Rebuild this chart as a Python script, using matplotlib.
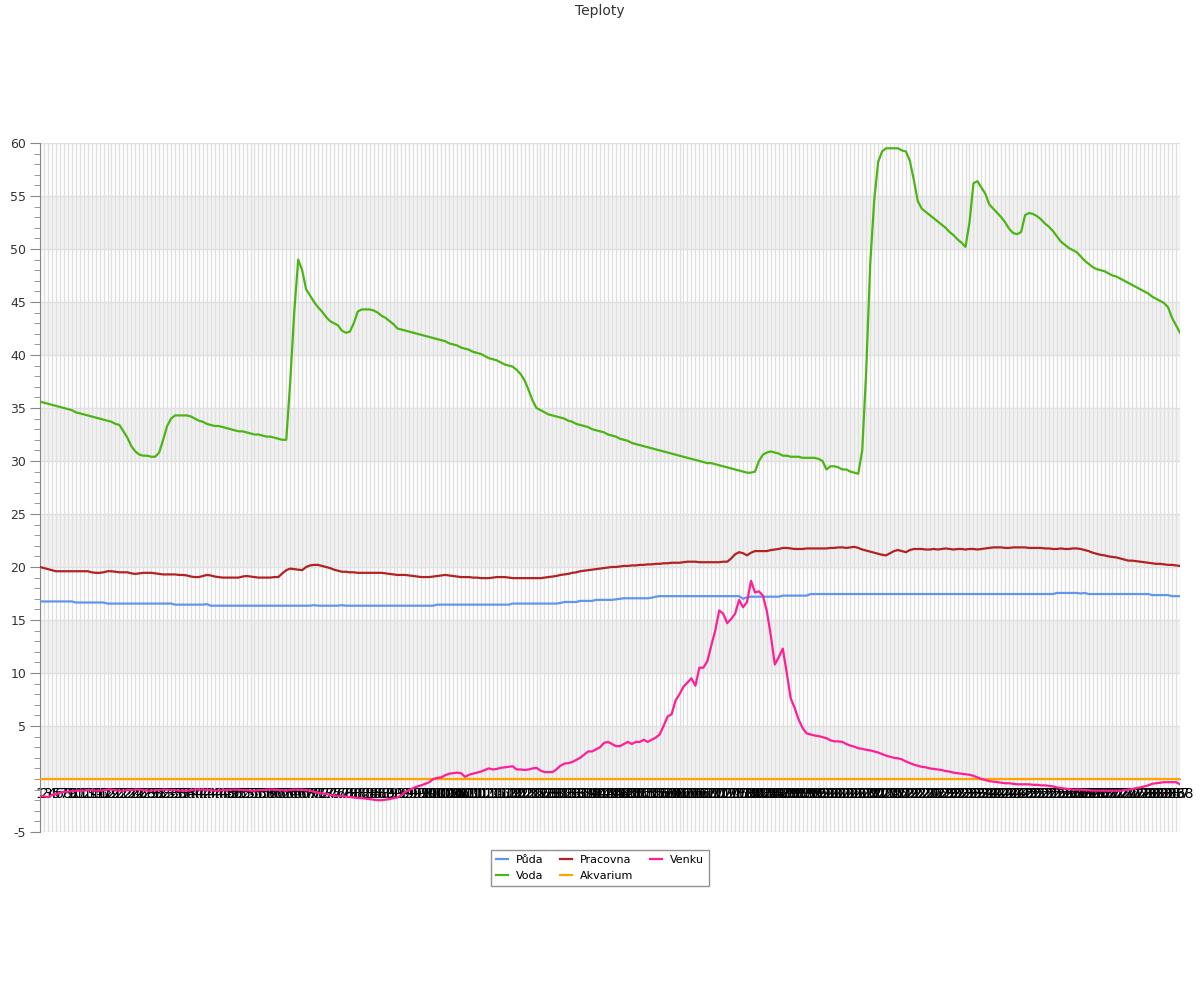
import matplotlib
matplotlib.use('Agg')
import matplotlib.pyplot as plt
from matplotlib.ticker import MultipleLocator

# 288 measurements over the day, category labels 1..288
labels = [str(i) for i in range(1, 289)]

puda = [
    16.75, 16.75, 16.75, 16.75, 16.75, 16.75, 16.75, 16.75, 16.75, 16.65,
    16.65, 16.65, 16.65, 16.65, 16.65, 16.65, 16.65, 16.55, 16.55, 16.55,
    16.55, 16.55, 16.55, 16.55, 16.55, 16.55, 16.55, 16.55, 16.55, 16.55,
    16.55, 16.55, 16.55, 16.55, 16.45, 16.45, 16.45, 16.45, 16.45, 16.45,
    16.45, 16.45, 16.5, 16.35, 16.35, 16.35, 16.35, 16.35, 16.35, 16.35,
    16.35, 16.35, 16.35, 16.35, 16.35, 16.35, 16.35, 16.35, 16.35, 16.35,
    16.35, 16.35, 16.35, 16.35, 16.35, 16.35, 16.35, 16.35, 16.35, 16.4,
    16.35, 16.35, 16.35, 16.35, 16.35, 16.35, 16.4, 16.35, 16.35, 16.35,
    16.35, 16.35, 16.35, 16.35, 16.35, 16.35, 16.35, 16.35, 16.35, 16.35,
    16.35, 16.35, 16.35, 16.35, 16.35, 16.35, 16.35, 16.35, 16.35, 16.35,
    16.45, 16.45, 16.45, 16.45, 16.45, 16.45, 16.45, 16.45, 16.45, 16.45,
    16.45, 16.45, 16.45, 16.45, 16.45, 16.45, 16.45, 16.45, 16.45, 16.55,
    16.55, 16.55, 16.55, 16.55, 16.55, 16.55, 16.55, 16.55, 16.55, 16.55,
    16.55, 16.6, 16.7, 16.7, 16.7, 16.7, 16.8, 16.8, 16.8, 16.8,
    16.9, 16.9, 16.9, 16.9, 16.9, 16.95, 17.0, 17.05, 17.05, 17.05,
    17.05, 17.05, 17.05, 17.05, 17.1, 17.2, 17.25, 17.25, 17.25, 17.25,
    17.25, 17.25, 17.25, 17.25, 17.25, 17.25, 17.25, 17.25, 17.25, 17.25,
    17.25, 17.25, 17.25, 17.25, 17.25, 17.25, 17.25, 17.0, 17.15, 17.2,
    17.2, 17.2, 17.2, 17.2, 17.2, 17.2, 17.2, 17.3, 17.3, 17.3,
    17.3, 17.3, 17.3, 17.3, 17.45, 17.45, 17.45, 17.45, 17.45, 17.45,
    17.45, 17.45, 17.45, 17.45, 17.45, 17.45, 17.45, 17.45, 17.45, 17.45,
    17.45, 17.45, 17.45, 17.45, 17.45, 17.45, 17.45, 17.45, 17.45, 17.45,
    17.45, 17.45, 17.45, 17.45, 17.45, 17.45, 17.45, 17.45, 17.45, 17.45,
    17.45, 17.45, 17.45, 17.45, 17.45, 17.45, 17.45, 17.45, 17.45, 17.45,
    17.45, 17.45, 17.45, 17.45, 17.45, 17.45, 17.45, 17.45, 17.45, 17.45,
    17.45, 17.45, 17.45, 17.45, 17.45, 17.45, 17.55, 17.55, 17.55, 17.55,
    17.55, 17.55, 17.5, 17.55, 17.45, 17.45, 17.45, 17.45, 17.45, 17.45,
    17.45, 17.45, 17.45, 17.45, 17.45, 17.45, 17.45, 17.45, 17.45, 17.45,
    17.35, 17.35, 17.35, 17.35, 17.35, 17.25, 17.25, 17.25,
]

voda = [
    35.6, 35.5, 35.4, 35.3, 35.2, 35.1, 35.0, 34.9, 34.8, 34.6,
    34.5, 34.4, 34.3, 34.2, 34.1, 34.0, 33.9, 33.8, 33.7, 33.5,
    33.4, 32.8, 32.2, 31.4, 30.9, 30.6, 30.5, 30.5, 30.4, 30.4,
    30.8, 32.0, 33.3, 34.0, 34.3, 34.3, 34.3, 34.3, 34.2, 34.0,
    33.8, 33.7, 33.5, 33.4, 33.3, 33.3, 33.2, 33.1, 33.0, 32.9,
    32.8, 32.8, 32.7, 32.6, 32.5, 32.5, 32.4, 32.3, 32.3, 32.2,
    32.1, 32.0, 32.0, 37.5, 44.0, 49.0, 48.0, 46.2, 45.6, 45.0,
    44.5, 44.1, 43.6, 43.2, 43.0, 42.8, 42.3, 42.1, 42.2, 43.0,
    44.1, 44.3, 44.3, 44.3, 44.2, 44.0, 43.7, 43.5, 43.2, 42.9,
    42.5, 42.4, 42.3, 42.2, 42.1, 42.0, 41.9, 41.8, 41.7, 41.6,
    41.5, 41.4, 41.3, 41.1, 41.0, 40.9, 40.7, 40.6, 40.5, 40.3,
    40.2, 40.1, 39.9, 39.7, 39.6, 39.5, 39.3, 39.1, 39.0, 38.9,
    38.6, 38.2, 37.6, 36.7, 35.7, 35.0, 34.8, 34.6, 34.4, 34.3,
    34.2, 34.1, 34.0, 33.8, 33.7, 33.5, 33.4, 33.3, 33.2, 33.0,
    32.9, 32.8, 32.7, 32.5, 32.4, 32.3, 32.1, 32.0, 31.9, 31.7,
    31.6, 31.5, 31.4, 31.3, 31.2, 31.1, 31.0, 30.9, 30.8, 30.7,
    30.6, 30.5, 30.4, 30.3, 30.2, 30.1, 30.0, 29.9, 29.8, 29.8,
    29.7, 29.6, 29.5, 29.4, 29.3, 29.2, 29.1, 29.0, 28.9, 28.9,
    29.0, 30.0, 30.6, 30.8, 30.9, 30.8, 30.7, 30.5, 30.5, 30.4,
    30.4, 30.4, 30.3, 30.3, 30.3, 30.3, 30.2, 30.0, 29.2, 29.5,
    29.5, 29.4, 29.2, 29.2, 29.0, 28.9, 28.8, 31.0, 38.5, 48.5,
    54.5, 58.2, 59.2, 59.5, 59.5, 59.5, 59.5, 59.3, 59.2, 58.3,
    56.5, 54.5, 53.8, 53.5, 53.2, 52.9, 52.6, 52.3, 52.0, 51.6,
    51.3, 50.9, 50.6, 50.2, 52.5, 56.2, 56.4, 55.8, 55.2, 54.2,
    53.8, 53.4, 53.0, 52.5, 51.9, 51.5, 51.4, 51.6, 53.2, 53.4,
    53.3, 53.1, 52.8, 52.4, 52.1, 51.7, 51.2, 50.7, 50.4, 50.1,
    49.9, 49.7, 49.3, 48.9, 48.6, 48.3, 48.1, 48.0, 47.9, 47.7,
    47.5, 47.4, 47.2, 47.0, 46.8, 46.6, 46.4, 46.2, 46.0, 45.8,
    45.5, 45.3, 45.1, 44.9, 44.5, 43.5, 42.8, 42.1,
]

pracovna = [
    20.0, 19.9, 19.8, 19.7, 19.6, 19.6, 19.6, 19.6, 19.6, 19.6,
    19.6, 19.6, 19.6, 19.5, 19.45, 19.45, 19.5, 19.6, 19.6, 19.55,
    19.5, 19.5, 19.5, 19.4, 19.35, 19.4, 19.45, 19.45, 19.45, 19.4,
    19.35, 19.3, 19.3, 19.3, 19.3, 19.25, 19.25, 19.2, 19.1, 19.05,
    19.05, 19.15, 19.25, 19.2, 19.1, 19.05, 19.0, 19.0, 19.0, 19.0,
    19.0, 19.1, 19.15, 19.1, 19.05, 19.0, 19.0, 19.0, 19.0, 19.05,
    19.05, 19.4, 19.7, 19.85, 19.8, 19.75, 19.7, 20.0, 20.15, 20.2,
    20.2, 20.1, 20.0, 19.9, 19.75, 19.65, 19.55, 19.55, 19.5, 19.5,
    19.45, 19.45, 19.45, 19.45, 19.45, 19.45, 19.45, 19.4, 19.35, 19.3,
    19.25, 19.25, 19.25, 19.2, 19.15, 19.1, 19.05, 19.05, 19.05, 19.1,
    19.15, 19.2, 19.25, 19.2, 19.15, 19.1, 19.05, 19.05, 19.05, 19.0,
    19.0, 18.95, 18.95, 18.95, 19.0, 19.05, 19.05, 19.05, 19.0, 18.95,
    18.95, 18.95, 18.95, 18.95, 18.95, 18.95, 18.95, 19.0, 19.05, 19.1,
    19.15, 19.25, 19.3, 19.35, 19.45, 19.5, 19.6, 19.65, 19.7, 19.75,
    19.8, 19.85, 19.9, 19.95, 20.0, 20.0, 20.05, 20.1, 20.1, 20.15,
    20.15, 20.2, 20.2, 20.25, 20.25, 20.3, 20.3, 20.35, 20.35, 20.4,
    20.4, 20.4, 20.45, 20.5, 20.5, 20.5, 20.45, 20.45, 20.45, 20.45,
    20.45, 20.45, 20.5, 20.5, 20.8, 21.2, 21.4, 21.3, 21.1, 21.35,
    21.5, 21.5, 21.5, 21.5, 21.6, 21.65, 21.7, 21.8, 21.8, 21.75,
    21.7, 21.7, 21.7, 21.75, 21.75, 21.75, 21.75, 21.75, 21.75, 21.8,
    21.8, 21.85, 21.85, 21.8, 21.85, 21.9, 21.8, 21.65, 21.55, 21.45,
    21.35, 21.25, 21.15, 21.1, 21.3, 21.5, 21.6, 21.5, 21.4, 21.6,
    21.7, 21.7, 21.7, 21.65, 21.65, 21.7, 21.65, 21.7, 21.75, 21.7,
    21.65, 21.7, 21.7, 21.65, 21.7, 21.7, 21.65, 21.7, 21.75, 21.8,
    21.85, 21.85, 21.85, 21.8, 21.8, 21.85, 21.85, 21.85, 21.85, 21.8,
    21.8, 21.8, 21.8, 21.75, 21.75, 21.7, 21.7, 21.75, 21.7, 21.7,
    21.75, 21.75, 21.7, 21.6, 21.5, 21.35, 21.25, 21.15, 21.1, 21.0,
    20.95, 20.9, 20.8, 20.7, 20.6, 20.6, 20.55, 20.5, 20.45, 20.4,
    20.35, 20.3, 20.3, 20.25, 20.2, 20.2, 20.15, 20.1,
]

# aquarium sensor reads 0 the whole day
akvarium = [0.0] * 288

venku = [
    -1.6, -1.65, -1.7, -1.5, -1.4, -1.3, -1.2, -1.2, -1.15, -1.1,
    -1.1, -1.1, -1.05, -1.05, -1.1, -1.1, -1.05, -1.0, -1.0, -1.05,
    -1.1, -1.1, -1.05, -1.05, -1.0, -1.0, -1.05, -1.1, -1.1, -1.05,
    -1.05, -1.0, -1.0, -1.05, -1.05, -1.1, -1.1, -1.1, -1.05, -1.0,
    -1.0, -1.0, -1.05, -1.05, -1.1, -1.1, -1.05, -1.05, -1.0, -1.0,
    -1.0, -1.05, -1.05, -1.1, -1.1, -1.05, -1.05, -1.0, -1.0, -1.0,
    -1.05, -1.05, -1.1, -1.05, -1.0, -1.0, -1.0, -1.05, -1.1, -1.2,
    -1.3, -1.35, -1.4, -1.5, -1.55, -1.6, -1.6, -1.65, -1.7, -1.75,
    -1.8, -1.8, -1.85, -1.9, -1.95, -2.0, -2.0, -1.95, -1.9, -1.8,
    -1.75, -1.5, -1.2, -1.05, -0.85, -0.7, -0.6, -0.45, -0.3, 0.0,
    0.1, 0.15, 0.35, 0.5, 0.55, 0.6, 0.55, 0.2, 0.4, 0.5,
    0.6, 0.7, 0.85, 1.0, 0.9, 0.95, 1.05, 1.1, 1.15, 1.2,
    0.9, 0.9, 0.85, 0.9, 1.0, 1.05, 0.8, 0.65, 0.65, 0.65,
    0.9, 1.25, 1.45, 1.5, 1.6, 1.8, 2.0, 2.3, 2.6, 2.6,
    2.8, 3.0, 3.4, 3.5, 3.3, 3.1, 3.1, 3.3, 3.5, 3.3,
    3.5, 3.5, 3.7, 3.5, 3.7, 3.9, 4.2, 5.0, 5.9, 6.1,
    7.4, 8.0, 8.7, 9.1, 9.5, 8.8, 10.5, 10.5, 11.1, 12.6,
    14.0, 15.9, 15.6, 14.7, 15.1, 15.6, 16.9, 16.2, 16.7, 18.7,
    17.6, 17.7, 17.3, 15.8, 13.5, 10.8, 11.5, 12.3, 10.0, 7.6,
    6.7, 5.6, 4.8, 4.3, 4.2, 4.1, 4.05, 3.95, 3.85, 3.65,
    3.55, 3.55, 3.5, 3.3, 3.15, 3.05, 2.9, 2.85, 2.75, 2.7,
    2.6, 2.5, 2.35, 2.2, 2.1, 2.0, 1.95, 1.85, 1.65, 1.5,
    1.35, 1.25, 1.15, 1.1, 1.0, 0.95, 0.9, 0.85, 0.75, 0.7,
    0.6, 0.55, 0.5, 0.45, 0.4, 0.3, 0.15, 0.0, -0.1, -0.2,
    -0.25, -0.3, -0.35, -0.4, -0.4, -0.45, -0.5, -0.5, -0.5, -0.5,
    -0.55, -0.55, -0.6, -0.6, -0.65, -0.7, -0.8, -0.85, -0.9, -0.95,
    -1.0, -1.0, -1.0, -1.05, -1.05, -1.1, -1.1, -1.1, -1.1, -1.1,
    -1.1, -1.1, -1.1, -1.05, -1.0, -0.95, -0.85, -0.8, -0.7, -0.6,
    -0.45, -0.4, -0.35, -0.3, -0.3, -0.3, -0.3, -0.5,
]

series = [
    ('Půda', puda, '#6495ED'),
    ('Voda', voda, '#4cb515'),
    ('Pracovna', pracovna, '#b22222'),
    ('Akvarium', akvarium, '#ffa500'),
    ('Venku', venku, '#ff1e96'),
]

fig = plt.figure(figsize=(12, 10), dpi=100)
ax = fig.add_axes([40 / 1200, 1 - 832 / 1000, 1140 / 1200, 689 / 1000])

x = list(range(len(labels)))

# alternating bands
for lo in range(0, 60, 10):
    ax.axhspan(lo, lo + 5, color='#f2f2f2', zorder=0, lw=0)
for v in range(-5, 61, 5):
    ax.axhline(v, color='#e0e0e0', lw=1, zorder=0.6)

handles = []
for name, vals, col in series:
    h, = ax.plot(x, vals, color=col, lw=1.6, label=name, zorder=3)
    handles.append(h)

ax.set_xlim(0, len(labels) - 1)
ax.set_ylim(-5, 60)

ax.set_xticks(x)
ax.set_xticklabels(labels, fontsize=7.5, color='#444444')
ax.tick_params(axis='x', length=0, pad=6)
ax.xaxis.grid(True, color='#e0e0e0', lw=1)
ax.set_axisbelow(True)

yt = [-5] + list(range(5, 61, 5))
ax.set_yticks(yt)
ax.set_yticklabels([str(v) for v in yt], fontsize=9, color='#333333')
ax.yaxis.set_minor_locator(MultipleLocator(1))
ax.tick_params(axis='y', which='major', length=7, color='#888888', pad=3)
ax.tick_params(axis='y', which='minor', length=4, color='#888888')

ax.spines['top'].set_visible(False)
ax.spines['right'].set_visible(False)
ax.spines['left'].set_color('#888888')
ax.spines['bottom'].set_position(('data', 0))
ax.spines['bottom'].set_color('#888888')

fig.text(0.5, 1 - 11 / 1000, 'Teploty', ha='center', va='center',
         fontsize=10, color='#333333')

leg = fig.legend(handles=handles, loc='upper center',
                 bbox_to_anchor=(0.5, 1 - 850 / 1000), ncol=3, fontsize=8,
                 frameon=True, fancybox=False, edgecolor='#777777',
                 handlelength=1.1, columnspacing=1.5, borderpad=0.45,
                 labelspacing=0.5, handletextpad=0.7, borderaxespad=0)
leg.get_frame().set_linewidth(1)

fig.savefig('out.png', dpi=100)
